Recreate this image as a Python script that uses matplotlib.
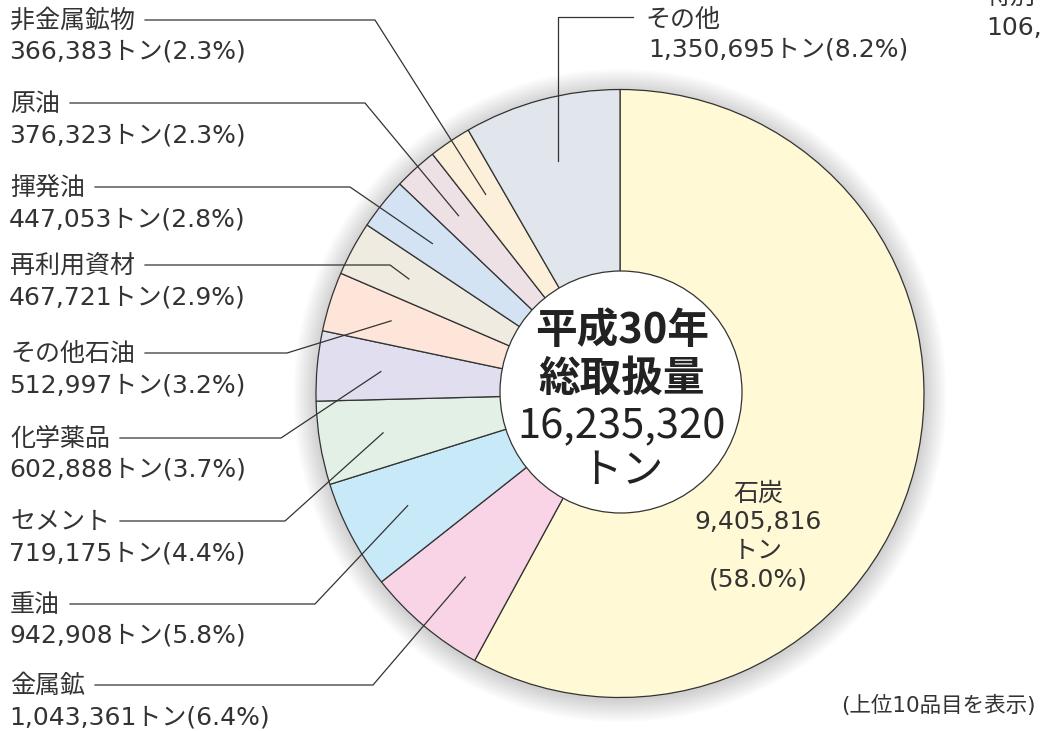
import numpy as np
import matplotlib.pyplot as plt
from matplotlib.patches import Circle

plt.rcParams['font.family'] = ['DejaVu Sans', 'Noto Sans CJK JP']
CJK = ['Noto Sans CJK JP', 'DejaVu Sans']

# 品目データ（石炭から時計回り）
names = ['石炭', '金属鉱', '重油', 'セメント', '化学薬品', 'その他石油',
         '再利用資材', '揮発油', '原油', '非金属鉱物', 'その他']
tons = [9405816, 1043361, 942908, 719175, 602888, 512997,
        467721, 447053, 376323, 366383, 1350695]
shares = [58.0, 6.4, 5.8, 4.4, 3.7, 3.2, 2.9, 2.8, 2.3, 2.3, 8.2]
colors = ['#FFF9D6', '#F9D4E6', '#C8E9F8', '#E2F0E5', '#E0DEEF', '#FDE5DA',
          '#EFEBE1', '#D3E3F4', '#EEE1E5', '#FDF0DA', '#E1E6EC']
total = 16235320

W, H = 1040, 731
fig = plt.figure(figsize=(W / 100, H / 100), dpi=100)
ax = fig.add_axes([0, 0, 1, 1])

cx, cy, R = 620, H - 393.5, 304

# ぼかし影
for k in range(1, 24):
    ax.add_patch(Circle((cx, cy - 2), R + k, color='#000000', alpha=0.009,
                        lw=0, zorder=0))

wedges, _ = ax.pie(tons, colors=colors, startangle=90, counterclock=False,
                   center=(cx, cy), radius=R,
                   wedgeprops=dict(edgecolor='#333333', linewidth=0.9))
for w in wedges:
    w.set_zorder(2)

ax.set_xlim(0, W)
ax.set_ylim(0, H)
ax.set_aspect('equal')
ax.axis('off')

# 中央の白い円
ax.add_patch(Circle((cx + 1, H - 392), 121, facecolor='white',
                    edgecolor='#333333', lw=0.9, zorder=3))
ax.text(cx + 2, H - 331, '平成30年', ha='center', va='center', fontsize=30,
        fontweight='bold', color='#222222', family=CJK, zorder=4)
ax.text(cx + 2, H - 379, '総取扱量', ha='center', va='center', fontsize=30,
        fontweight='bold', color='#222222', family=CJK, zorder=4)
ax.text(cx + 2, H - 427, f'{total:,}', ha='center', va='center', fontsize=30,
        color='#222222', family=CJK, zorder=4)
ax.text(cx + 2, H - 471, 'トン', ha='center', va='center', fontsize=30,
        color='#222222', family=CJK, zorder=4)

# 石炭ラベル（扇の中）
coal_lines = [names[0], f'{tons[0]:,}', 'トン', f'({shares[0]:.1f}%)']
for j, s in enumerate(coal_lines):
    ax.text(758, H - 494 - 28.5 * j, s, ha='center', va='center', fontsize=18,
            color='#333333', zorder=4)

fig.canvas.draw()
renderer = fig.canvas.get_renderer()
inv = ax.transData.inverted()

# 左側ラベルの配置（名前行の y, 折れ点の x）
label_y = [686, 605, 522, 439, 354, 266, 188, 104, 21]
elbow_x = [373, 315, 285, 281, 287, 390, 350, 365, 375]

for i, (ly, ex) in enumerate(zip(label_y, elbow_x), start=1):
    t = ax.text(10, H - ly, names[i], ha='left', va='center', fontsize=18,
                color='#333333', zorder=4)
    ax.text(9, H - ly - 31, f'{tons[i]:,}トン({shares[i]:.1f}%)', ha='left',
            va='center', fontsize=18, color='#333333', zorder=4)
    bb = t.get_window_extent(renderer)
    x0 = inv.transform((bb.x1, 0))[0] + 10
    th = np.deg2rad((wedges[i].theta1 + wedges[i].theta2) / 2)
    px, py = cx + 0.79 * R * np.cos(th), cy + 0.79 * R * np.sin(th)
    ax.plot([x0, ex, px], [H - ly + 1, H - ly + 1, py], color='#333333',
            lw=0.9, zorder=5)

# その他ラベル
th = np.deg2rad((wedges[10].theta1 + wedges[10].theta2) / 2)
px, py = cx + 0.79 * R * np.cos(th), cy + 0.79 * R * np.sin(th)
ax.plot([px, px, 633], [py, H - 17, H - 17], color='#333333', lw=0.9, zorder=5)
ax.text(645, H - 20, names[10], ha='left', va='center', fontsize=18,
        color='#333333', zorder=4)
ax.text(648, H - 50, f'{tons[10]:,}トン({shares[10]:.1f}%)', ha='left',
        va='center', fontsize=18, color='#333333', zorder=4)

# 右上の切れた文字
ax.text(985, H + 3, '特別', ha='left', va='center', fontsize=18,
        color='#333333', zorder=4)
ax.text(986, H - 28, '106,', ha='left', va='center', fontsize=18,
        color='#333333', zorder=4)

ax.text(1036, H - 705, '(上位10品目を表示)', ha='right', va='center',
        fontsize=15.5, color='#333333', zorder=4)

fig.savefig('out.png', dpi=100)
